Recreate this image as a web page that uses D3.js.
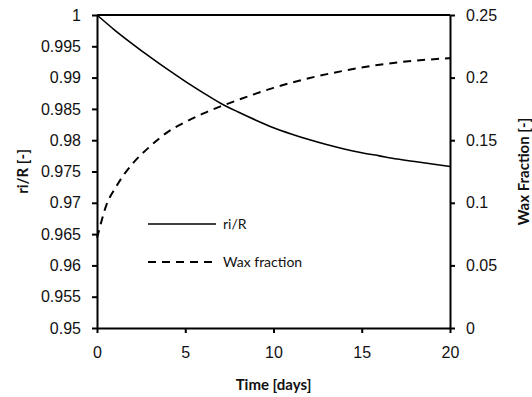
<!DOCTYPE html>
<html lang="en">
<head>
<meta charset="UTF-8">
<title>ri/R and wax fraction</title>
<script src="https://d3js.org/d3.v7.min.js"></script>
<style>
  body { margin: 0; background: #fff; }
  svg { font-family: Lato, "Open Sans", sans-serif; }
  .tick text { font-size: 16px; fill: #111; }
  .title { font-size: 15px; font-weight: bold; fill: #111; }
  .legend text { font-size: 14px; fill: #111; }
</style>
</head>
<body>
<div id="chart"></div>
<script>
  // data
  const days = [0, 1, 2, 3, 4, 5, 6, 7, 8, 9, 10, 11, 12, 13, 14, 15, 16, 17, 18, 19, 20];
  const riR = [1, 0.9976, 0.9954, 0.9933, 0.9913, 0.9894, 0.9876, 0.9859, 0.9845, 0.9832, 0.9820,
               0.9810, 0.9801, 0.9793, 0.9786, 0.9780, 0.9775, 0.9770, 0.9766, 0.9762, 0.9758];
  const waxDays = [0, 0.1, 0.25, 0.5, 0.75, 1, 1.5, 2, 3, 4, 5, 6, 7, 8, 9, 10, 12, 14, 16, 18, 20];
  const wax = [0.072, 0.077, 0.085, 0.097, 0.105, 0.111, 0.122, 0.131, 0.145, 0.1565, 0.1645, 0.1712,
               0.177, 0.1822, 0.1872, 0.1918, 0.1995, 0.2055, 0.2103, 0.2135, 0.2155];
  const xTicks = [0, 5, 10, 15, 20];
  const leftTicks = [0.95, 0.955, 0.96, 0.965, 0.97, 0.975, 0.98, 0.985, 0.99, 0.995, 1];
  const rightTicks = [0, 0.05, 0.1, 0.15, 0.2, 0.25];

  const W = 532, H = 397;
  const m = { top: 15, right: 82, bottom: 69, left: 97 };

  const svg = d3.select("#chart").append("svg")
    .attr("width", W).attr("height", H);

  const x = d3.scaleLinear().domain([0, 20]).range([m.left, W - m.right]);
  const yL = d3.scaleLinear().domain([0.95, 1]).range([H - m.bottom, m.top]);
  const yR = d3.scaleLinear().domain([0, 0.25]).range([H - m.bottom, m.top]);

  // frame top line
  svg.append("line")
    .attr("x1", x(0)).attr("x2", x(20))
    .attr("y1", yL(1)).attr("y2", yL(1))
    .attr("stroke", "#000").attr("stroke-width", 2);

  function styleAxis(g) {
    g.select(".domain").attr("stroke", "#000").attr("stroke-width", 2);
    g.selectAll(".tick line").attr("stroke", "#000").attr("stroke-width", 2);
  }

  svg.append("g")
    .attr("transform", `translate(0,${H - m.bottom})`)
    .call(d3.axisBottom(x).tickValues(xTicks).tickSize(5).tickSizeOuter(0).tickPadding(14))
    .call(styleAxis);

  svg.append("g")
    .attr("transform", `translate(${m.left},0)`)
    .call(d3.axisLeft(yL).tickValues(leftTicks).tickSize(5).tickSizeOuter(0).tickPadding(11)
      .tickFormat(d => d3.format("")(+d.toFixed(3))))
    .call(styleAxis);

  svg.append("g")
    .attr("transform", `translate(${W - m.right},0)`)
    .call(d3.axisRight(yR).tickValues(rightTicks).tickSize(5).tickSizeOuter(0).tickPadding(11)
      .tickFormat(d => d3.format("")(+d.toFixed(2))))
    .call(styleAxis);

  svg.selectAll(".tick text").attr("font-family", null).attr("font-size", null);

  // curves
  const lineL = d3.line().x((d, i) => x(days[i])).y(d => yL(d)).curve(d3.curveMonotoneX);
  const lineR = d3.line().x((d, i) => x(waxDays[i])).y(d => yR(d)).curve(d3.curveMonotoneX);

  svg.append("path").datum(riR)
    .attr("d", lineL).attr("fill", "none")
    .attr("stroke", "#000").attr("stroke-width", 1.6);

  svg.append("path").datum(wax)
    .attr("d", lineR).attr("fill", "none")
    .attr("stroke", "#000").attr("stroke-width", 2)
    .attr("stroke-dasharray", "8,6");

  // axis titles
  svg.append("text").attr("class", "title")
    .attr("x", (x(0) + x(20)) / 2).attr("y", 390)
    .attr("text-anchor", "middle").text("Time [days]");

  svg.append("text").attr("class", "title")
    .attr("transform", `translate(28,${(yL(1) + yL(0.95)) / 2}) rotate(-90)`)
    .attr("text-anchor", "middle").text("ri/R [-]");

  svg.append("text").attr("class", "title")
    .attr("transform", `translate(529,${(yL(1) + yL(0.95)) / 2}) rotate(-90)`)
    .attr("text-anchor", "middle").text("Wax Fraction [-]");

  // legend
  const legend = svg.append("g").attr("class", "legend");
  const items = [
    { label: "ri/R", dash: null, width: 1.6, y: 224 },
    { label: "Wax fraction", dash: "8,6", width: 2, y: 262 }
  ];
  items.forEach(it => {
    legend.append("line")
      .attr("x1", 148).attr("x2", 216).attr("y1", it.y).attr("y2", it.y)
      .attr("stroke", "#000").attr("stroke-width", it.width)
      .attr("stroke-dasharray", it.dash);
    legend.append("text")
      .attr("x", 223).attr("y", it.y + 5).text(it.label);
  });
</script>
</body>
</html>
